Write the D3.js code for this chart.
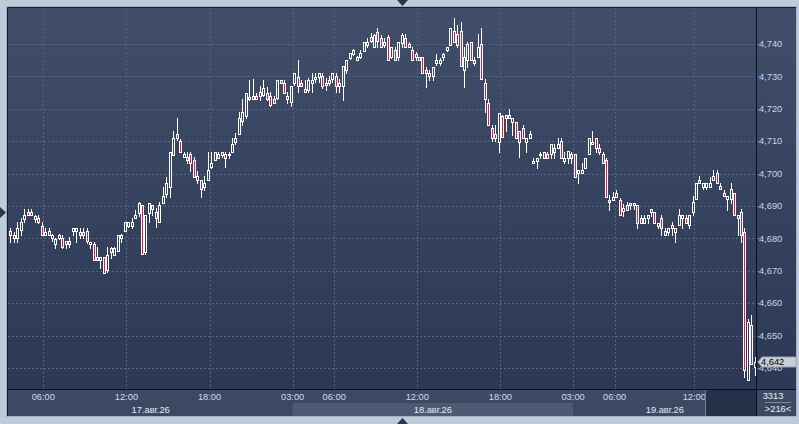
<!DOCTYPE html>
<html>
<head>
<meta charset="utf-8">
<script src="https://cdn.jsdelivr.net/npm/d3@7"></script>
<style>
  body { margin: 0; background: #bdcbdb; overflow: hidden; }
  svg { display: block; }
  text { font-family: "Liberation Sans", Arial, sans-serif; font-size: 9.3px; }
</style>
</head>
<body>
<div id="chart"></div>
<script>
// 15-minute candles (bar 0 .. 215)
const openP = [
  4682.3, 4680.0, 4680.0, 4682.6, 4686.0, 4688.0, 4688.0, 4686.0, 4686.2, 4683.9,
  4681.1, 4682.3, 4680.0, 4678.2, 4680.0, 4680.2, 4678.2, 4678.2, 4682.3, 4682.3,
  4682.1, 4682.1, 4682.3, 4678.2, 4678.2, 4673.3, 4673.3, 4674.3, 4670.2, 4675.9,
  4674.9, 4676.1, 4680.0, 4682.3, 4683.9, 4683.9, 4686.2, 4687.7, 4690.3, 4675.9,
  4687.7, 4690.3, 4688.0, 4685.0, 4691.0, 4693.7, 4696.0, 4705.7, 4712.1, 4710.0,
  4705.0, 4705.2, 4706.0, 4704.2, 4698.0, 4698.0, 4696.0, 4698.0, 4702.0, 4704.2,
  4706.0, 4705.7, 4706.0, 4706.0, 4706.8, 4709.9, 4712.1, 4716.2, 4717.8, 4723.7,
  4723.8, 4723.8, 4724.0, 4724.3, 4725.0, 4723.9, 4722.9, 4723.2, 4727.9, 4727.9,
  4723.9, 4722.2, 4727.9, 4729.9, 4728.1, 4726.0, 4725.8, 4727.9, 4729.9, 4729.9,
  4730.1, 4728.1, 4727.9, 4729.1, 4730.1, 4727.0, 4727.0, 4732.0, 4735.6, 4736.8,
  4735.9, 4735.9, 4737.9, 4739.7, 4742.3, 4739.2, 4743.8, 4741.7, 4739.7, 4742.1,
  4736.1, 4738.0, 4736.1, 4740.2, 4741.7, 4740.0, 4738.0, 4735.9, 4735.9, 4735.9,
  4732.0, 4731.0, 4730.1, 4734.0, 4734.0, 4735.9, 4738.1, 4739.7, 4744.1, 4739.7,
  4744.1, 4732.0, 4735.1, 4740.7, 4735.1, 4735.9, 4740.0, 4727.9, 4721.9, 4714.0,
  4712.2, 4709.9, 4717.8, 4717.1, 4718.1, 4716.0, 4716.0, 4713.0, 4714.0, 4709.9,
  4710.9, 4703.9, 4703.9, 4705.9, 4706.8, 4704.9, 4705.9, 4708.0, 4708.0, 4710.1,
  4703.9, 4704.9, 4705.9, 4705.9, 4700.1, 4700.1, 4701.8, 4705.9, 4709.9, 4710.9,
  4708.0, 4705.9, 4704.2, 4691.9, 4691.9, 4693.9, 4691.9, 4688.4, 4690.3, 4690.3,
  4690.3, 4690.3, 4686.2, 4684.9, 4686.2, 4688.0, 4688.0, 4683.8, 4686.2, 4682.3,
  4682.1, 4684.1, 4682.1, 4684.1, 4686.2, 4686.2, 4684.1, 4688.0, 4692.1, 4698.0,
  4696.0, 4696.0, 4696.0, 4698.0, 4700.1, 4696.2, 4694.1, 4692.1, 4692.1, 4693.9,
  4686.2, 4688.3, 4682.1, 4636.3, 4653.3, 4640.2
];
const highP = [
  4683.1, 4682.1, 4685.0, 4686.4, 4689.0, 4689.0, 4689.0, 4687.2, 4687.2, 4685.0,
  4683.1, 4683.1, 4681.3, 4680.2, 4681.3, 4681.1, 4679.2, 4680.5, 4683.1, 4683.1,
  4683.1, 4683.1, 4683.1, 4679.0, 4679.0, 4677.4, 4674.3, 4674.3, 4677.4, 4677.4,
  4677.4, 4681.1, 4681.3, 4685.0, 4685.0, 4686.2, 4688.9, 4691.3, 4690.3, 4687.2,
  4691.0, 4690.3, 4689.3, 4691.3, 4696.0, 4699.1, 4706.8, 4713.1, 4717.1, 4710.6,
  4706.8, 4706.8, 4706.8, 4705.2, 4700.9, 4698.0, 4699.3, 4706.8, 4706.8, 4706.8,
  4706.8, 4706.8, 4706.8, 4706.8, 4710.9, 4712.6, 4719.1, 4722.9, 4725.0, 4728.9,
  4729.1, 4725.0, 4727.0, 4728.9, 4726.8, 4725.3, 4723.8, 4728.9, 4728.9, 4728.9,
  4725.3, 4727.0, 4731.1, 4735.1, 4728.9, 4728.9, 4729.4, 4731.0, 4731.2, 4731.2,
  4731.2, 4729.4, 4730.1, 4731.2, 4731.2, 4729.1, 4733.2, 4735.1, 4737.1, 4738.4,
  4736.4, 4738.2, 4740.7, 4741.8, 4743.3, 4743.1, 4744.8, 4742.8, 4741.7, 4742.8,
  4739.0, 4739.0, 4740.7, 4743.3, 4743.1, 4740.7, 4739.0, 4737.6, 4736.1, 4735.9,
  4733.0, 4732.0, 4733.0, 4736.9, 4735.6, 4737.1, 4739.0, 4744.8, 4747.9, 4745.9,
  4746.9, 4739.0, 4740.7, 4740.7, 4736.1, 4743.1, 4744.8, 4729.1, 4722.9, 4715.0,
  4715.0, 4718.8, 4718.1, 4718.1, 4720.0, 4717.1, 4716.0, 4713.0, 4715.0, 4710.9,
  4713.1, 4704.7, 4704.9, 4706.8, 4706.8, 4706.8, 4709.0, 4709.0, 4711.1, 4711.1,
  4706.8, 4707.0, 4706.8, 4705.9, 4701.1, 4703.2, 4704.9, 4710.9, 4713.1, 4710.9,
  4709.0, 4706.8, 4704.9, 4693.4, 4694.4, 4694.9, 4692.4, 4690.5, 4691.3, 4691.0,
  4691.0, 4690.3, 4687.2, 4687.2, 4687.2, 4689.0, 4688.0, 4684.9, 4687.2, 4683.1,
  4683.1, 4685.2, 4683.1, 4689.0, 4687.2, 4687.2, 4687.2, 4693.1, 4697.0, 4699.3,
  4697.0, 4697.0, 4699.1, 4701.1, 4701.1, 4697.0, 4694.9, 4693.1, 4697.0, 4693.9,
  4687.2, 4689.0, 4683.1, 4655.0, 4656.4, 4643.5
];
const lowP = [
  4679.0, 4679.0, 4679.0, 4681.1, 4685.0, 4687.2, 4687.2, 4685.0, 4684.8, 4681.1,
  4681.1, 4680.9, 4679.2, 4677.1, 4679.8, 4677.1, 4677.1, 4677.3, 4681.1, 4679.0,
  4680.0, 4680.0, 4678.5, 4677.1, 4673.3, 4673.3, 4671.0, 4669.2, 4669.7, 4673.8,
  4674.9, 4676.0, 4679.0, 4682.2, 4683.6, 4683.1, 4686.2, 4686.9, 4675.2, 4675.2,
  4685.2, 4687.2, 4683.6, 4685.0, 4690.8, 4692.9, 4692.9, 4705.7, 4710.4, 4706.8,
  4705.0, 4703.2, 4700.9, 4699.1, 4697.0, 4692.9, 4694.9, 4698.0, 4701.6, 4704.2,
  4704.9, 4705.2, 4702.0, 4704.7, 4706.8, 4709.0, 4712.1, 4715.0, 4717.1, 4722.7,
  4722.9, 4722.9, 4722.7, 4723.8, 4722.7, 4720.9, 4721.8, 4722.9, 4727.9, 4725.0,
  4721.9, 4720.9, 4727.3, 4725.3, 4727.0, 4725.3, 4725.3, 4725.3, 4728.4, 4728.4,
  4726.3, 4725.8, 4727.3, 4728.4, 4725.3, 4725.3, 4722.7, 4731.0, 4735.4, 4736.6,
  4735.0, 4735.6, 4737.9, 4739.2, 4740.7, 4739.2, 4739.2, 4739.0, 4739.0, 4735.1,
  4735.6, 4735.1, 4735.1, 4739.0, 4739.0, 4739.0, 4735.1, 4735.1, 4735.1, 4731.0,
  4726.8, 4728.9, 4728.9, 4733.5, 4733.5, 4735.1, 4737.9, 4739.7, 4740.7, 4739.0,
  4733.2, 4726.8, 4733.0, 4735.1, 4733.5, 4735.9, 4729.1, 4719.1, 4715.0, 4710.2,
  4710.2, 4706.8, 4711.2, 4713.0, 4717.1, 4712.0, 4710.9, 4705.0, 4710.9, 4706.8,
  4710.9, 4703.2, 4701.8, 4704.9, 4704.9, 4704.9, 4704.9, 4704.9, 4708.0, 4704.9,
  4703.2, 4703.2, 4703.2, 4699.1, 4697.0, 4700.1, 4701.8, 4705.9, 4709.0, 4706.8,
  4705.9, 4703.2, 4692.9, 4688.8, 4691.9, 4692.9, 4687.2, 4686.9, 4688.8, 4689.0,
  4689.0, 4683.1, 4684.9, 4684.9, 4684.9, 4686.9, 4684.9, 4683.1, 4681.1, 4681.1,
  4681.1, 4681.1, 4679.0, 4684.1, 4683.1, 4684.9, 4683.1, 4687.2, 4692.1, 4697.0,
  4695.1, 4695.1, 4696.0, 4698.0, 4697.0, 4695.1, 4693.1, 4688.8, 4691.0, 4687.2,
  4681.1, 4679.0, 4637.3, 4636.3, 4641.2, 4637.8
];
const closeP = [
  4681.1, 4681.1, 4683.1, 4685.2, 4687.2, 4687.2, 4687.2, 4687.0, 4685.0, 4681.1,
  4682.1, 4681.1, 4681.1, 4679.8, 4681.1, 4677.3, 4679.2, 4679.2, 4683.1, 4683.1,
  4681.1, 4681.1, 4679.2, 4679.0, 4673.3, 4674.3, 4674.3, 4669.2, 4674.9, 4677.1,
  4677.1, 4681.1, 4681.1, 4685.0, 4685.0, 4685.0, 4687.2, 4691.0, 4675.2, 4687.2,
  4691.0, 4689.0, 4686.2, 4690.3, 4693.2, 4697.0, 4706.8, 4710.9, 4710.9, 4706.8,
  4706.0, 4704.2, 4703.2, 4699.1, 4699.3, 4695.1, 4697.0, 4701.1, 4703.4, 4706.8,
  4704.9, 4706.8, 4704.9, 4705.8, 4709.0, 4710.9, 4717.1, 4719.1, 4725.0, 4722.9,
  4722.9, 4722.9, 4725.3, 4726.3, 4722.9, 4721.2, 4721.9, 4728.9, 4728.9, 4725.0,
  4722.9, 4727.0, 4731.1, 4727.0, 4727.0, 4725.3, 4728.9, 4728.9, 4729.1, 4731.0,
  4727.0, 4727.4, 4728.9, 4731.0, 4727.0, 4728.1, 4733.2, 4735.1, 4737.1, 4738.2,
  4735.1, 4737.1, 4740.7, 4740.7, 4741.0, 4742.8, 4741.0, 4739.0, 4740.7, 4735.1,
  4739.0, 4735.1, 4740.7, 4742.8, 4739.0, 4739.0, 4735.1, 4736.8, 4735.1, 4731.0,
  4731.2, 4730.1, 4733.0, 4735.1, 4735.1, 4736.9, 4739.0, 4744.8, 4740.7, 4743.1,
  4733.2, 4736.1, 4740.0, 4735.1, 4734.0, 4739.0, 4729.1, 4722.9, 4715.0, 4710.9,
  4710.9, 4718.8, 4711.4, 4718.1, 4717.1, 4717.1, 4710.9, 4709.9, 4710.9, 4710.9,
  4712.1, 4703.2, 4704.9, 4706.0, 4704.9, 4705.9, 4709.0, 4706.8, 4709.0, 4704.9,
  4704.9, 4707.0, 4704.9, 4699.1, 4701.1, 4701.1, 4704.9, 4710.9, 4709.0, 4708.0,
  4706.8, 4703.2, 4692.9, 4691.1, 4692.9, 4692.9, 4687.2, 4689.3, 4688.8, 4691.0,
  4691.0, 4684.9, 4684.9, 4686.2, 4687.2, 4689.0, 4684.9, 4684.9, 4683.1, 4681.1,
  4683.1, 4683.1, 4683.1, 4687.2, 4687.2, 4684.9, 4687.2, 4691.3, 4697.0, 4697.0,
  4697.0, 4697.0, 4697.0, 4699.3, 4697.0, 4695.1, 4693.1, 4693.1, 4695.1, 4687.2,
  4687.2, 4681.1, 4639.4, 4654.3, 4641.2, 4642.0
];

// time axis: tick positions are bar boundaries (in bar-index units)
const timeTicks = [9.5, 33.5, 57.5, 81.5, 93.5, 117.5, 141.5, 162.5, 174.5, 197.5];
const timeLabels = ['06:00', '12:00', '18:00', '03:00', '06:00', '12:00', '18:00', '03:00', '06:00', '12:00'];
const dayLabels = ['17.авг.26', '18.авг.26', '19.авг.26'];
const dayStart = [-0.5, 81.5, 162.5];
const dayEnd = [81.5, 162.5, 215.5];

const priceTicks = [4640, 4650, 4660, 4670, 4680, 4690, 4700, 4710, 4720, 4730, 4740];
const lastPrice = 4642;
const footerTop = '3313';
const footerBottom = '>216<';

const width = 799;
const height = 424;
// panel and plot edges
const pL = 8, pR = 756, pT = 8, pB = 389, panelRight = 796, panelBottom = 416;

const svg = d3.select('#chart').append('svg')
  .attr('width', width)
  .attr('height', height);

const defs = svg.append('defs');
const grad = defs.append('linearGradient')
  .attr('id', 'bg')
  .attr('gradientUnits', 'userSpaceOnUse')
  .attr('x1', 0).attr('y1', pT).attr('x2', 0).attr('y2', pB);
grad.append('stop').attr('offset', '0%').attr('stop-color', '#404e69');
grad.append('stop').attr('offset', '100%').attr('stop-color', '#2c3854');

defs.append('clipPath').attr('id', 'plotClip')
  .append('rect')
  .attr('x', pL).attr('y', pT)
  .attr('width', pR - pL).attr('height', pB - pT);

const x = d3.scaleLinear().domain([-0.5, 215.5]).range([8.7, 756.6]);
const y = d3.scaleLinear().domain([4640, 4740]).range([368, 44]);

// panel backgrounds
svg.append('rect')
  .attr('x', pL).attr('y', pT)
  .attr('width', panelRight - pL).attr('height', pB - pT)
  .attr('fill', 'url(#bg)');

svg.append('rect')
  .attr('x', pL).attr('y', pB)
  .attr('width', panelRight - pL).attr('height', panelBottom - pB)
  .attr('fill', '#3d4962');

// alternate day band (second day lighter)
svg.append('rect')
  .attr('x', x(dayStart[1])).attr('y', 403)
  .attr('width', x(dayEnd[1]) - x(dayStart[1])).attr('height', panelBottom - 403)
  .attr('fill', '#4d5a73');

// gridlines
const grid = svg.append('g')
  .attr('stroke', '#56647e')
  .attr('stroke-dasharray', '2,2')
  .attr('shape-rendering', 'crispEdges');

grid.selectAll('line.h')
  .data(priceTicks)
  .enter()
  .append('line')
  .attr('x1', pL).attr('x2', pR)
  .attr('y1', (d) => Math.round(y(d)) + 0.5)
  .attr('y2', (d) => Math.round(y(d)) + 0.5);

grid.selectAll('line.v')
  .data(timeTicks)
  .enter()
  .append('line')
  .attr('x1', (d) => Math.round(x(d)) + 0.5)
  .attr('x2', (d) => Math.round(x(d)) + 0.5)
  .attr('y1', pT).attr('y2', pB);

// candles
const bars = openP.map((o, i) => ({ i, o, h: highP[i], l: lowP[i], c: closeP[i] }));
const candles = svg.append('g')
  .attr('clip-path', 'url(#plotClip)')
  .attr('shape-rendering', 'crispEdges');

candles.selectAll('line')
  .data(bars)
  .enter()
  .append('line')
  .attr('x1', (d) => Math.round(x(d.i)) + 0.5)
  .attr('x2', (d) => Math.round(x(d.i)) + 0.5)
  .attr('y1', (d) => Math.round(y(d.h)))
  .attr('y2', (d) => Math.round(y(d.l)) + 1)
  .attr('stroke', '#ffffff')
  .attr('stroke-width', 1);

candles.selectAll('rect')
  .data(bars)
  .enter()
  .append('rect')
  .attr('x', (d) => Math.round(x(d.i)) - 0.5)
  .attr('width', 2)
  .attr('y', (d) => Math.round(y(Math.max(d.o, d.c))) + 0.5)
  .attr('height', (d) => Math.max(1, Math.round(y(Math.min(d.o, d.c))) - Math.round(y(Math.max(d.o, d.c)))))
  .attr('fill', (d) => d.c < d.o ? '#dc1a4b' : 'url(#bg)')
  .attr('stroke', '#ffffff')
  .attr('stroke-width', 1);

// right axis: small blue ticks and labels
svg.append('g')
  .selectAll('line')
  .data(priceTicks)
  .enter()
  .append('line')
  .attr('x1', pR + 1).attr('x2', pR + 4)
  .attr('y1', (d) => Math.round(y(d)) + 0.5)
  .attr('y2', (d) => Math.round(y(d)) + 0.5)
  .attr('stroke', '#3f7fd0')
  .attr('shape-rendering', 'crispEdges');

const fmt = d3.format(',');
svg.append('g')
  .selectAll('text')
  .data(priceTicks)
  .enter()
  .append('text')
  .attr('x', pR + 3)
  .attr('y', (d) => y(d))
  .attr('dy', '0.35em')
  .attr('fill', '#c8d5e8')
  .text((d) => fmt(d));

// bottom axis: time labels and day labels
svg.append('g')
  .selectAll('text')
  .data(timeTicks)
  .enter()
  .append('text')
  .attr('x', (d) => x(d))
  .attr('y', 397)
  .attr('dy', '0.35em')
  .attr('text-anchor', 'middle')
  .attr('fill', '#c6dcf6')
  .text((d, i) => timeLabels[i]);

svg.append('g')
  .selectAll('text')
  .data(dayLabels)
  .enter()
  .append('text')
  .attr('x', (d, i) => (x(dayStart[i]) + x(dayEnd[i])) / 2)
  .attr('y', 410)
  .attr('dy', '0.35em')
  .attr('text-anchor', 'middle')
  .attr('fill', '#e4ebf4')
  .text((d) => d);

// dark block at the end of the time axis
svg.append('rect')
  .attr('x', 705).attr('y', pB)
  .attr('width', pR - 705).attr('height', panelBottom - pB)
  .attr('fill', '#263049');
svg.append('line')
  .attr('x1', 705.5).attr('x2', 705.5)
  .attr('y1', pB).attr('y2', panelBottom)
  .attr('stroke', '#6f7b92');

// separators
svg.append('line')
  .attr('x1', pL).attr('x2', panelRight)
  .attr('y1', pB + 0.5).attr('y2', pB + 0.5)
  .attr('stroke', '#0b0f18');
svg.append('line')
  .attr('x1', pR + 0.5).attr('x2', pR + 0.5)
  .attr('y1', pT).attr('y2', panelBottom)
  .attr('stroke', '#0b0f18');

// bar counter in the corner
svg.append('text')
  .attr('x', 773).attr('y', 396).attr('dy', '0.35em')
  .attr('text-anchor', 'middle').attr('fill', '#e8eef6')
  .text(footerTop);
svg.append('line')
  .attr('x1', 765).attr('x2', 791)
  .attr('y1', 402.5).attr('y2', 402.5)
  .attr('stroke', '#7d8aa0');
svg.append('text')
  .attr('x', 778).attr('y', 409).attr('dy', '0.35em')
  .attr('text-anchor', 'middle').attr('fill', '#e8eef6')
  .text(footerBottom);

// last price marker (drawn over the 4,640 label, as in the terminal)
const ly = Math.round(y(lastPrice));
svg.append('polygon')
  .attr('points', `${pR + 2},${ly} ${pR + 6},${ly - 5} ${panelRight},${ly - 5} ${panelRight},${ly + 5} ${pR + 6},${ly + 5}`)
  .attr('fill', '#c9ced6')
  .attr('stroke', '#9aa4b4');
svg.append('text')
  .attr('x', pR + 5).attr('y', ly).attr('dy', '0.35em')
  .attr('fill', '#000000')
  .text(fmt(lastPrice));

// frame
svg.append('rect')
  .attr('x', 6.5).attr('y', 6.5)
  .attr('width', panelRight - 6).attr('height', panelBottom - 6)
  .attr('fill', 'none')
  .attr('stroke', '#a4b1c2');
svg.append('path')
  .attr('d', `M7.5,${panelBottom} V7.5 H${panelRight}`)
  .attr('fill', 'none')
  .attr('stroke', '#151b28');

// scroll markers
const marker = '#2a3550';
svg.append('polygon').attr('points', '397,0 408,0 402.5,6').attr('fill', marker);
svg.append('polygon').attr('points', '397,424 408,424 402.5,418').attr('fill', marker);
svg.append('polygon').attr('points', '0,207 0,218 6,212.5').attr('fill', marker);
</script>
</body>
</html>
